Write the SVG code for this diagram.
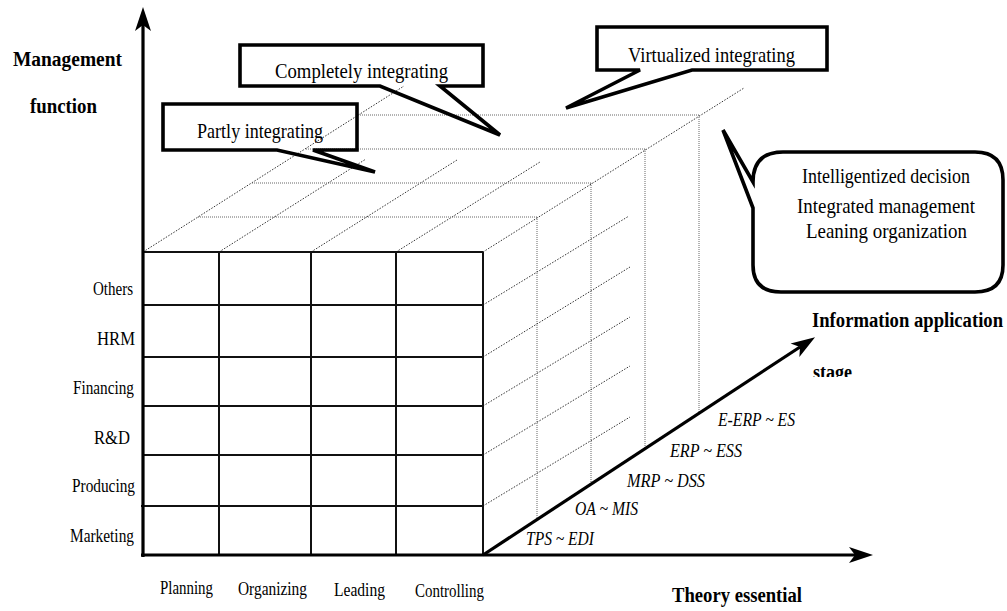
<svg xmlns="http://www.w3.org/2000/svg" width="1007" height="611" viewBox="0 0 1007 611" font-family="'Liberation Serif', 'DejaVu Serif', serif">
<style>
text{font-family:'Liberation Serif','Times New Roman','DejaVu Serif',serif;fill:#000}
.lab{font-size:19px}
.it{font-size:19px;font-style:italic}
.bold{font-size:20px;font-weight:bold}
.call{font-size:22px}
.rc{font-size:21px}
.axis{stroke:#000;stroke-width:3.2;fill:none}
.grid{stroke:#111;stroke-width:2;fill:none}
.dot{stroke:#333;stroke-width:1;stroke-dasharray:1.5 1.5;fill:none}
.dotg{stroke:#666;stroke-width:1;stroke-dasharray:1 1;fill:none}
.box{stroke:#000;stroke-width:3.6;fill:none;stroke-linejoin:miter}
</style>
<defs>
<marker id="arr" viewBox="-25 -9 27 18" refX="-18" refY="0" markerWidth="27" markerHeight="18" markerUnits="userSpaceOnUse" orient="auto">
<path d="M0,0 L-24,-8 L-18,0 L-24,8 Z" fill="#000"/>
</marker>
<clipPath id="clipStage"><rect x="800" y="350" width="80" height="27"/></clipPath>
</defs>
<rect width="1007" height="611" fill="#fff"/>

<g id="dotted-structure">
<line class="dot" x1="143" y1="252" x2="404" y2="86"/>
<line class="dot" x1="219" y1="252" x2="366" y2="159"/>
<line class="dot" x1="311" y1="252" x2="457" y2="160"/>
<line class="dot" x1="396" y1="252" x2="540" y2="162"/>
<line class="dot" x1="483" y1="252" x2="744" y2="88"/>
<line class="dotg" x1="198" y1="217" x2="537" y2="217"/>
<line class="dotg" x1="252" y1="183" x2="591" y2="183"/>
<line class="dotg" x1="306" y1="149" x2="645" y2="149"/>
<line class="dotg" x1="360" y1="115" x2="699" y2="115"/>
<line class="dotg" x1="537" y1="217" x2="537" y2="519"/>
<line class="dotg" x1="591" y1="183" x2="591" y2="484"/>
<line class="dotg" x1="645" y1="149" x2="645" y2="448"/>
<line class="dotg" x1="699" y1="115" x2="699" y2="413"/>
<line class="dot" x1="483" y1="305" x2="629" y2="216"/>
<line class="dot" x1="483" y1="357" x2="630" y2="267"/>
<line class="dot" x1="483" y1="406" x2="630" y2="317"/>
<line class="dot" x1="483" y1="455" x2="630" y2="366"/>
<line class="dot" x1="483" y1="506" x2="630" y2="417"/>
</g>

<g id="front-grid">
<line class="grid" x1="219" y1="252" x2="219" y2="555"/>
<line class="grid" x1="311" y1="252" x2="311" y2="555"/>
<line class="grid" x1="396" y1="252" x2="396" y2="555"/>
<line class="grid" x1="483" y1="252" x2="483" y2="555"/>
<line class="grid" x1="143" y1="252" x2="483" y2="252"/>
<line class="grid" x1="143" y1="305" x2="483" y2="305"/>
<line class="grid" x1="143" y1="357" x2="483" y2="357"/>
<line class="grid" x1="143" y1="406" x2="483" y2="406"/>
<line class="grid" x1="143" y1="455" x2="483" y2="455"/>
<line class="grid" x1="141" y1="506" x2="483" y2="506"/>
</g>

<g id="connectors">
<line class="axis" x1="143" y1="557" x2="143" y2="25" marker-end="url(#arr)"/>
<line class="axis" x1="141" y1="555" x2="855" y2="555" marker-end="url(#arr)"/>
<line class="axis" x1="483" y1="555" x2="800" y2="347" marker-end="url(#arr)"/>
</g>

<g id="axis-labels">
<text class="bold" x="13" y="66" textLength="109" lengthAdjust="spacingAndGlyphs">Management</text>
<text class="bold" x="30" y="113" textLength="67" lengthAdjust="spacingAndGlyphs">function</text>
<text class="bold" x="812" y="327" textLength="191" lengthAdjust="spacingAndGlyphs">Information application</text>
<text class="bold" x="813" y="379" textLength="39" lengthAdjust="spacingAndGlyphs" clip-path="url(#clipStage)">stage</text>
<text class="bold" x="672" y="602" textLength="130" lengthAdjust="spacingAndGlyphs">Theory essential</text>
</g>

<g id="row-labels">
<text class="lab" x="93" y="295" textLength="40" lengthAdjust="spacingAndGlyphs">Others</text>
<text class="lab" x="97" y="345" textLength="38" lengthAdjust="spacingAndGlyphs">HRM</text>
<text class="lab" x="73" y="394" textLength="61" lengthAdjust="spacingAndGlyphs">Financing</text>
<text class="lab" x="94" y="444" textLength="36" lengthAdjust="spacingAndGlyphs">R&amp;D</text>
<text class="lab" x="72" y="492" textLength="63" lengthAdjust="spacingAndGlyphs">Producing</text>
<text class="lab" x="70" y="542" textLength="64" lengthAdjust="spacingAndGlyphs">Marketing</text>
</g>

<g id="column-labels">
<text class="lab" x="160" y="594" textLength="53" lengthAdjust="spacingAndGlyphs">Planning</text>
<text class="lab" x="238" y="595" textLength="69" lengthAdjust="spacingAndGlyphs">Organizing</text>
<text class="lab" x="334" y="596" textLength="51" lengthAdjust="spacingAndGlyphs">Leading</text>
<text class="lab" x="415" y="597" textLength="69" lengthAdjust="spacingAndGlyphs">Controlling</text>
</g>

<g id="stage-labels">
<text class="it" x="526" y="545" textLength="68" lengthAdjust="spacingAndGlyphs">TPS ~ EDI</text>
<text class="it" x="575" y="515" textLength="63" lengthAdjust="spacingAndGlyphs">OA ~ MIS</text>
<text class="it" x="627" y="487" textLength="78" lengthAdjust="spacingAndGlyphs">MRP ~ DSS</text>
<text class="it" x="670" y="457" textLength="72" lengthAdjust="spacingAndGlyphs">ERP ~ ESS</text>
<text class="it" x="718" y="426" textLength="77" lengthAdjust="spacingAndGlyphs">E-ERP ~ ES</text>
</g>

<g id="callout-completely">
<path class="box" d="M380,86 L240,86 L240,45 L483,45 L483,86 L440,86 L500,135 Z"/>
<text class="call" x="275" y="78" textLength="173" lengthAdjust="spacingAndGlyphs">Completely integrating</text>
</g>

<g id="callout-partly">
<path class="box" d="M277,150 L163,150 L163,104 L357,104 L357,150 L313,150 L375,172 Z"/>
<text class="call" x="197" y="138" textLength="126" lengthAdjust="spacingAndGlyphs">Partly integrating</text>
</g>

<g id="callout-virtualized">
<path class="box" d="M640,70 L597,70 L597,27 L827,27 L827,70 L692,70 L566,108 Z"/>
<text class="call" x="628" y="62" textLength="167" lengthAdjust="spacingAndGlyphs">Virtualized integrating</text>
</g>

<g id="callout-decision">
<path class="box" stroke-linejoin="round" d="M753,208 L723,130 L753,182 Q753,152 783,152 L975,152 Q1003,152 1003,180 L1003,265 Q1003,292 975,292 L781,292 Q753,292 753,265 Z"/>
<text class="rc" x="802" y="183" textLength="168" lengthAdjust="spacingAndGlyphs">Intelligentized decision</text>
<text class="rc" x="797" y="213" textLength="178" lengthAdjust="spacingAndGlyphs">Integrated management</text>
<text class="rc" x="806" y="238" textLength="161" lengthAdjust="spacingAndGlyphs">Leaning organization</text>
</g>
</svg>
